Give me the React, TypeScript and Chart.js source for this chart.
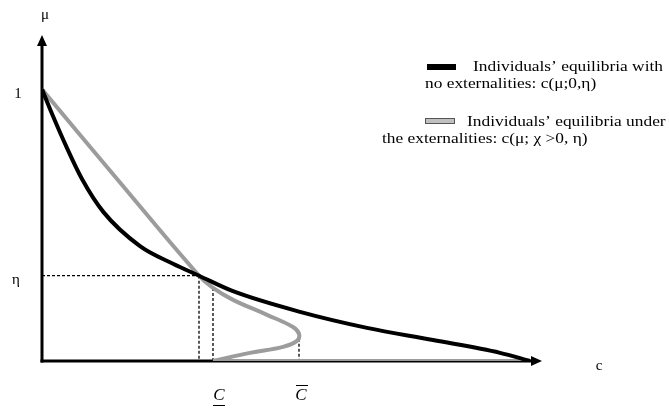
import React, { useEffect, useRef } from "react";
import { Chart, registerables } from "chart.js";

Chart.register(...registerables);

// Curve: individuals' equilibria with no externalities, c(μ;0,η)
const blackC = [0, 2, 4.6, 8, 12.3, 19.6, 26.2, 31.4, 38.2, 51.6, 65, 78.2, 91.6, 97.6];
const blackMu = [1.0, 0.91, 0.8, 0.67, 0.548, 0.423, 0.358, 0.314, 0.257, 0.181, 0.122, 0.077, 0.03, 0];

// Curve: individuals' equilibria under the externalities, c(μ; χ>0, η)
const grayC = [0, 15.6, 31.4, 34.2, 38.2, 45, 50.2, 51.4, 51, 48.2, 41.6, 34.2];
const grayMu = [1.0, 0.657, 0.314, 0.269, 0.225, 0.17, 0.125, 0.1, 0.074, 0.052, 0.03, 0];
const grayFlatC = [34.2, 97.6];
const grayFlatMu = [0, 0];

// Reference levels
const eta = 0.314;
const cCross = 31.4;
const cUnder = 34.2;
const cUnderMu = 0.269;
const cBar = 51.4;
const cBarMu = 0.1;

const xMax = 100;
const yMax = 1.2;

const axisLabels = { mu: "μ", one: "1", eta: "η", c: "c", cUnder: "C", cBar: "C" };
const legendLines1 = ["Individuals’ equilibria with", "no externalities: c(μ;0,η)"];
const legendLines2 = ["Individuals’ equilibria under", "the externalities: c(μ; χ >0, η)"];

const BLACK = "#000000";
const GRAY = "#9c9c9c";
const TEXT_STRETCH = 1.24;

function pts(xs: number[], ys: number[]) {
  return xs.map((x, i) => ({ x, y: ys[i] }));
}

function stretchedText(ctx: CanvasRenderingContext2D, text: string, x: number, y: number) {
  ctx.save();
  ctx.translate(x, y);
  ctx.scale(TEXT_STRETCH, 1);
  ctx.fillText(text, 0, 0);
  ctx.restore();
}

const overlay = {
  id: "overlay",
  beforeDatasetsDraw(chart: any) {
    const ctx = chart.ctx;
    const xs = chart.scales.x;
    const ys = chart.scales.y;
    const x0 = xs.getPixelForValue(0);
    const y0 = ys.getPixelForValue(0);
    const xEnd = xs.getPixelForValue(xMax);
    const yTop = ys.getPixelForValue(yMax);
    ctx.save();
    ctx.strokeStyle = BLACK;
    ctx.fillStyle = BLACK;
    ctx.lineWidth = 3;
    // y axis
    ctx.beginPath();
    ctx.moveTo(x0, y0 + 1.5);
    ctx.lineTo(x0, yTop + 10);
    ctx.stroke();
    ctx.beginPath();
    ctx.moveTo(x0, yTop);
    ctx.lineTo(x0 - 5, yTop + 11);
    ctx.lineTo(x0 + 5, yTop + 11);
    ctx.closePath();
    ctx.fill();
    // x axis
    ctx.beginPath();
    ctx.moveTo(x0 - 1.5, y0);
    ctx.lineTo(xEnd - 10, y0);
    ctx.stroke();
    ctx.beginPath();
    ctx.moveTo(xEnd, y0);
    ctx.lineTo(xEnd - 11, y0 - 5);
    ctx.lineTo(xEnd - 11, y0 + 5);
    ctx.closePath();
    ctx.fill();

    // dashed guide lines
    ctx.lineWidth = 1.3;
    ctx.setLineDash([3, 2]);
    const yEta = ys.getPixelForValue(eta);
    ctx.beginPath();
    ctx.moveTo(x0, yEta);
    ctx.lineTo(xs.getPixelForValue(cCross), yEta);
    ctx.moveTo(xs.getPixelForValue(cCross), yEta);
    ctx.lineTo(xs.getPixelForValue(cCross), y0);
    ctx.moveTo(xs.getPixelForValue(cUnder), ys.getPixelForValue(cUnderMu));
    ctx.lineTo(xs.getPixelForValue(cUnder), y0);
    ctx.moveTo(xs.getPixelForValue(cBar), ys.getPixelForValue(cBarMu));
    ctx.lineTo(xs.getPixelForValue(cBar), y0);
    ctx.stroke();
    ctx.setLineDash([]);
    ctx.restore();
  },
  afterDraw(chart: any) {
    const ctx = chart.ctx;
    const xs = chart.scales.x;
    const ys = chart.scales.y;
    const x0 = xs.getPixelForValue(0);
    const y0 = ys.getPixelForValue(0);
    ctx.save();
    ctx.fillStyle = BLACK;
    ctx.strokeStyle = BLACK;
    ctx.textBaseline = "middle";
    ctx.textAlign = "center";
    ctx.font = "15px 'Liberation Serif'";
    ctx.fillText(axisLabels.mu, x0 + 3, 15);
    ctx.fillText(axisLabels.one, 18, ys.getPixelForValue(1) + 5);
    ctx.fillText(axisLabels.eta, 16, ys.getPixelForValue(eta) + 4);
    ctx.fillText(axisLabels.c, 599, y0 + 5);
    // C underline / C bar
    ctx.font = "italic 17px 'Liberation Serif'";
    const cu = xs.getPixelForValue(cUnder) + 6;
    const cb = xs.getPixelForValue(cBar) + 2;
    const ly = y0 + 35;
    ctx.fillText(axisLabels.cUnder, cu, ly);
    ctx.fillText(axisLabels.cBar, cb, ly);
    ctx.lineWidth = 1;
    ctx.beginPath();
    ctx.moveTo(cu - 6, ly + 9.5);
    ctx.lineTo(cu + 6, ly + 9.5);
    ctx.moveTo(cb - 5, ly - 10.5);
    ctx.lineTo(cb + 7, ly - 10.5);
    ctx.stroke();

    // legend
    ctx.font = "14px 'Liberation Serif'";
    ctx.textAlign = "left";
    ctx.fillStyle = BLACK;
    ctx.fillRect(427, 64, 29, 6);
    stretchedText(ctx, legendLines1[0], 473, 67);
    stretchedText(ctx, legendLines1[1], 425, 84);
    ctx.fillStyle = "#c0c0c0";
    ctx.fillRect(425, 118, 30, 6);
    ctx.strokeStyle = "#555555";
    ctx.lineWidth = 1;
    ctx.strokeRect(425.5, 118.5, 29, 5);
    ctx.fillStyle = BLACK;
    stretchedText(ctx, legendLines2[0], 467, 122);
    stretchedText(ctx, legendLines2[1], 382, 139);
    ctx.restore();
  },
};

export default function App() {
  const ref = useRef<HTMLCanvasElement>(null);
  useEffect(() => {
    if (!ref.current) return;
    const chart = new Chart(ref.current, {
      type: "scatter",
      data: {
        datasets: [
          {
            label: "black",
            data: pts(blackC, blackMu),
            showLine: true,
            borderColor: BLACK,
            borderWidth: 4,
            pointRadius: 0,
            cubicInterpolationMode: "monotone",
            fill: false,
          },
          {
            label: "grayFlat",
            data: pts(grayFlatC, grayFlatMu),
            showLine: true,
            borderColor: GRAY,
            borderWidth: 4,
            pointRadius: 0,
            tension: 0,
            fill: false,
          },
          {
            label: "gray",
            data: pts(grayC, grayMu),
            showLine: true,
            borderColor: GRAY,
            borderWidth: 4,
            pointRadius: 0,
            tension: 0.4,
            fill: false,
          },
        ],
      },
      options: {
        responsive: false,
        animation: false,
        devicePixelRatio: 1,
        layout: { padding: { left: 42, right: 127, top: 35, bottom: 48 } },
        plugins: { legend: { display: false }, tooltip: { enabled: false } },
        scales: {
          x: { type: "linear", min: 0, max: xMax, display: false },
          y: { type: "linear", min: 0, max: yMax, display: false },
        },
      },
      plugins: [overlay],
    });
    return () => chart.destroy();
  }, []);
  return (
    <div style={{ position: "absolute", left: 0, top: 0, width: 669, height: 409, background: "#fff" }}>
      <canvas ref={ref} width={669} height={409} />
    </div>
  );
}
